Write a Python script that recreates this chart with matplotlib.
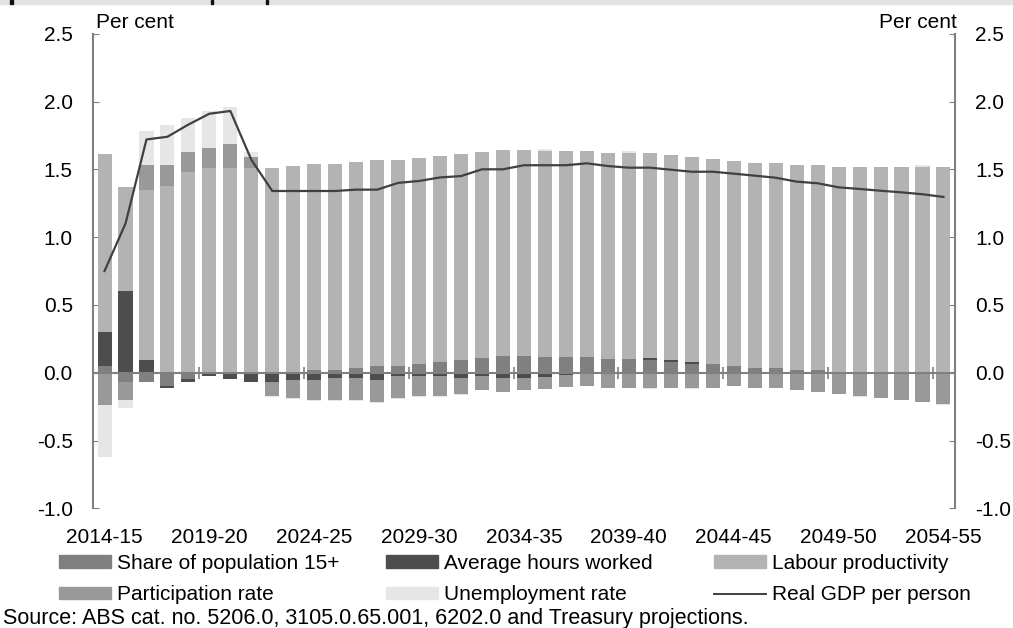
"""
Contribuciones al crecimiento del PIB real por persona, 2014-15 a 2054-55.
"""

import matplotlib
matplotlib.use("Agg")
import matplotlib.pyplot as plt
from matplotlib.patches import Patch, Rectangle
from matplotlib.lines import Line2D
import numpy as np

plt.rcParams['font.family'] = ['Liberation Sans', 'DejaVu Sans']
FS = 15

years = [f"{y}-{str(y + 1)[2:]}" for y in range(2014, 2055)]

share_pop = [0.05, -0.07, -0.07, -0.10, -0.05, 0.0, 0.0, 0.0, 0.0, 0.005,
             0.017, 0.017, 0.032, 0.047, 0.047, 0.061, 0.076, 0.091, 0.106, 0.12,
             0.12, 0.118, 0.118, 0.118, 0.103, 0.103, 0.093, 0.081, 0.066, 0.061,
             0.047, 0.032, 0.032, 0.017, 0.017, 0.0, 0.0, 0.0, 0.0, 0.0, 0.0]
avg_hours = [0.25, 0.60, 0.09, -0.015, -0.017, -0.025, -0.05, -0.066, -0.066, -0.054,
             -0.054, -0.04, -0.04, -0.054, -0.022, -0.022, -0.022, -0.04, -0.022, -0.04,
             -0.04, -0.03, -0.015, 0.0, 0.0, 0.0, 0.012, 0.01, 0.01, 0.0,
             0.0, 0.0, 0.0, 0.0, 0.0, 0.0, 0.0, 0.0, 0.0, 0.0, 0.0]
labour_prod = [1.31, 0.77, 1.26, 1.38, 1.48, 1.51, 1.51, 1.51, 1.51, 1.52,
               1.52, 1.52, 1.52, 1.52, 1.52, 1.52, 1.52, 1.52, 1.52, 1.52,
               1.52, 1.52, 1.52, 1.52, 1.52, 1.52, 1.517, 1.517, 1.517, 1.517,
               1.517, 1.517, 1.517, 1.517, 1.517, 1.519, 1.519, 1.519, 1.519, 1.519, 1.519]
participation = [-0.24, -0.135, 0.18, 0.15, 0.15, 0.15, 0.18, 0.08, -0.105, -0.135,
                 -0.15, -0.165, -0.165, -0.165, -0.167, -0.15, -0.15, -0.118, -0.106, -0.103,
                 -0.088, -0.09, -0.09, -0.098, -0.113, -0.113, -0.113, -0.113, -0.113, -0.113,
                 -0.098, -0.113, -0.113, -0.128, -0.143, -0.157, -0.172, -0.187, -0.20, -0.216, -0.23]
unemployment = [-0.38, -0.057, 0.25, 0.30, 0.25, 0.27, 0.27, 0.04, -0.01, -0.007,
                -0.007, -0.007, -0.007, -0.007, -0.007, -0.007, -0.007, -0.005, 0.0, 0.0,
                0.0, 0.01, 0.0, 0.0, 0.0, 0.015, -0.01, 0.0, -0.01, 0.0,
                0.0, 0.0, 0.0, 0.0, 0.0, 0.0, -0.008, 0.0, 0.0, 0.01, -0.01]
real_gdp = [0.75, 1.10, 1.72, 1.74, 1.83, 1.91, 1.93, 1.57, 1.34, 1.34,
            1.34, 1.34, 1.35, 1.35, 1.40, 1.414, 1.44, 1.45, 1.50, 1.50,
            1.53, 1.53, 1.53, 1.544, 1.524, 1.512, 1.512, 1.497, 1.482, 1.482,
            1.468, 1.453, 1.438, 1.409, 1.397, 1.367, 1.355, 1.342, 1.33, 1.316, 1.296]

series = [
    ("Share of population 15+", share_pop, "#808080"),
    ("Average hours worked", avg_hours, "#4d4d4d"),
    ("Labour productivity", labour_prod, "#b3b3b3"),
    ("Participation rate", participation, "#999999"),
    ("Unemployment rate", unemployment, "#e6e6e6"),
]

fig = plt.figure(figsize=(10.13, 6.28), dpi=100)
ax = fig.add_axes([93 / 1013, 1 - 508.3 / 628, 862 / 1013, 474.6 / 628])

x = np.arange(len(years))
pos_base = np.zeros(len(years))
neg_base = np.zeros(len(years))
for nombre, valores, color in series:
    v = np.array(valores)
    base = np.where(v >= 0, pos_base, neg_base)
    ax.bar(x, v, bottom=base, width=0.67, color=color, edgecolor="none", zorder=2)
    pos_base += np.where(v >= 0, v, 0)
    neg_base += np.where(v < 0, v, 0)

ax.plot(x, real_gdp, color="#404040", linewidth=1.6, zorder=4)

ax.set_xlim(-0.55, len(years) - 0.45)
ax.set_ylim(-1.0, 2.5)
ax.set_yticks(np.arange(-1.0, 2.51, 0.5))
ax.set_yticklabels([f"{t:.1f}" for t in np.arange(-1.0, 2.51, 0.5)])

ax.set_xticks(x[::5])
ax.set_xticklabels(years[::5])
ax.tick_params(axis="x", length=0, pad=14, labelsize=FS)
ax.tick_params(axis="y", which="both", left=True, right=True, labelleft=True,
               labelright=True, direction="in", length=4, color="#808080",
               labelsize=FS, pad=14.5)

for lado in ["top", "bottom"]:
    ax.spines[lado].set_visible(False)
for lado in ["left", "right"]:
    ax.spines[lado].set_color("#808080")
    ax.spines[lado].set_linewidth(1.5)

# linea del cero con sus marcas
eje0 = ax.secondary_xaxis(1.0 / 3.5)
eje0.set_xticks(np.arange(4.5, len(years) - 1, 5))
eje0.set_xticklabels([])
eje0.tick_params(direction="inout", length=9, color="#808080", width=1.2)
eje0.spines["bottom"].set_color("#808080")
eje0.spines["bottom"].set_linewidth(1.5)
eje0.set_zorder(3)

fig.text(96 / 1013, 1 - 28 / 628, "Per cent", fontsize=FS, va="baseline", ha="left")
fig.text(957 / 1013, 1 - 28 / 628, "Per cent", fontsize=FS, va="baseline", ha="right")

# banda gris superior (resto del titulo recortado)
fig.add_artist(Rectangle((0, 1 - 4 / 628), 1, 4 / 628, transform=fig.transFigure,
                         color="#e3e3e3", zorder=0))
for xm in [10, 210.5, 265.5]:
    fig.add_artist(Rectangle((xm / 1013, 1 - 4 / 628), 2.5 / 1013, 4 / 628,
                             transform=fig.transFigure, color="#111111", zorder=1))

handles = [Patch(color=c, label=n) for n, _, c in series]
handles.append(Line2D([], [], color="#404040", linewidth=1.4, label="Real GDP per person"))
columnas = [[0, 3], [1, 4], [2, 5]]
x_cols = [59, 386, 714]
for col, xc in zip(columnas, x_cols):
    leg = fig.legend([handles[i] for i in col], [handles[i].get_label() for i in col],
                     loc="upper left", bbox_to_anchor=(xc / 1013, 1 - 554 / 628),
                     frameon=False, fontsize=FS, handlelength=2.5, handleheight=0.53,
                     handletextpad=0.29, labelspacing=0.6,
                     borderaxespad=0, borderpad=0)

fig.text(3 / 1013, 1 - 624 / 628,
         "Source: ABS cat. no. 5206.0, 3105.0.65.001, 6202.0 and Treasury projections.",
         fontsize=15.5, va="baseline", ha="left")

fig.savefig("out.png", dpi=100)
plt.close(fig)
